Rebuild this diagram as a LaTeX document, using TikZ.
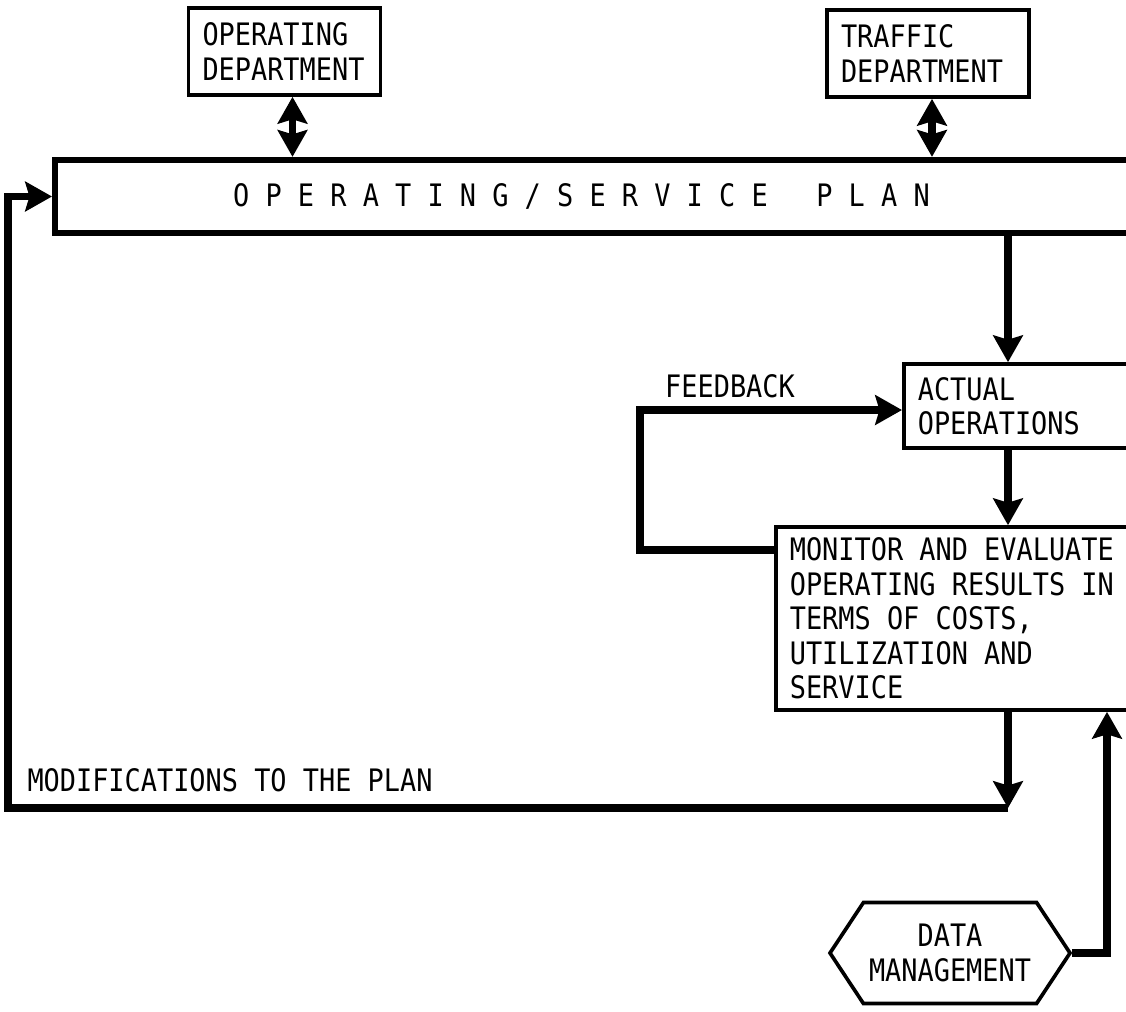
\documentclass[tikz,border=0pt]{standalone}
\usepackage{fontspec}
\newfontfamily\chartfont[FakeStretch=0.87]{DejaVu Sans Mono}
\usetikzlibrary{arrows.meta,shapes.symbols}
% monospaced spaces, as wide as a letter
\newcommand\chartspace{\spaceskip=\fontcharwd\font`\M\relax \xspaceskip=\spaceskip}

\begin{document}
\begin{tikzpicture}[>={Stealth[length=19pt,width=21pt,inset=3pt]},line width=5.2pt,
    font=\chartfont\fontsize{22}{24.5}\selectfont,
    main node/.style={draw,line width=2.6pt,align=left,inner xsep=0.35cm,inner ysep=0pt,
      execute at begin node=\chartspace},
    hex node/.style={draw,line width=2.6pt,align=center,signal,signal to=west and east,
      signal pointer angle=113}]
    \useasboundingbox (0,0) rectangle (28.15,-25.275);
    \clip (0,0) rectangle (28.15,-25.275);
    \node[main node,minimum height=2.175cm,text width=4.1cm] (opdept) at (7.1125,-1.2875) {OPERATING\\DEPARTMENT};
    \node[main node,minimum height=2.175cm,text width=4.35cm] (trafdept) at (23.2,-1.3375) {TRAFFIC\\DEPARTMENT};
    \node[main node,line width=4.5pt,anchor=west,minimum height=1.825cm,inner xsep=4.45cm,text width=19cm] (plan) at (1.3,-4.9125)
      {O~P~E~R~A~T~I~N~G~/~S~E~R~V~I~C~E~~~P~L~A~N};
    \node[main node,anchor=west,minimum height=2.1cm,text width=6cm] (actual) at (22.55,-10.15) {ACTUAL\\OPERATIONS};
    \node[main node,anchor=west,minimum height=4.575cm,text width=9cm] (monitor) at (19.35,-15.4625)
      {MONITOR AND EVALUATE\\OPERATING RESULTS IN\\TERMS OF COSTS,\\UTILIZATION AND\\SERVICE};
    \node[hex node,minimum width=6cm,minimum height=2.525cm] (data) at (23.75,-23.825) {DATA\\MANAGEMENT};
    \node (fblabel) at (18.25,-9.65) {FEEDBACK};
    \node (modlabel) at (5.75,-19.5) {MODIFICATIONS TO THE PLAN};
    % turning points of the loops
    \coordinate (spine) at (25.2,0);
    \coordinate (datacol) at (27.675,0);
    \coordinate (fbturn) at (16,-13.75);
    \coordinate (modturn) at (25.2,-20.2);
    \coordinate (modleft) at (0.2,-20.2);
    \draw[<->] ([xshift=0.2cm]opdept.south) -- ([xshift=0.2cm]opdept.south |- plan.north);
    \draw[<->] ([xshift=0.1cm]trafdept.south) -- ([xshift=0.1cm]trafdept.south |- plan.north);
    \draw[->] (plan.south -| spine) -- (actual.north -| spine);
    \draw[->] (actual.south -| spine) -- (monitor.north -| spine);
    \draw[->] (monitor.west |- fbturn) -- (fbturn) |- ([yshift=-0.1cm]actual.west);
    \draw[->] (monitor.south -| spine) -- (modturn);
    \draw[->] (modturn) -- (modleft) |- (plan.west);
    \draw[->] (data.east) -| (monitor.south -| datacol);
\end{tikzpicture}
\end{document}
